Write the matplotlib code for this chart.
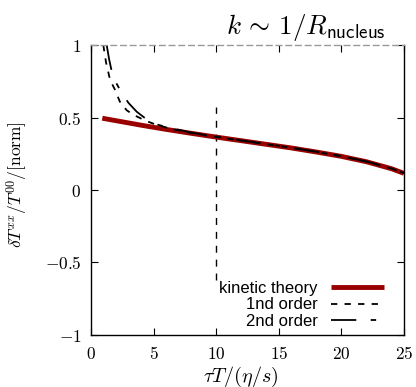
import matplotlib
matplotlib.use("Agg")
import matplotlib.pyplot as plt
import numpy as np

plt.rcParams['mathtext.fontset'] = 'cm'

# data
kin_x = [0.9, 2, 4, 6, 8, 10, 12, 14, 16, 18, 20, 22, 24, 25]
kin_y = [0.495, 0.478, 0.447, 0.418, 0.391, 0.365, 0.340, 0.315, 0.290, 0.262, 0.232, 0.195, 0.147, 0.115]

o1_x = [0.98, 1.2, 1.52, 1.92, 2.3, 2.85, 3.36, 4.3, 5.2, 6.5, 8, 10, 12, 14, 16, 18, 20, 22, 24, 25]
o1_y = [1.0, 0.88, 0.76, 0.69, 0.61, 0.55, 0.52, 0.48, 0.45, 0.42, 0.393, 0.366, 0.341, 0.316, 0.291, 0.263, 0.233, 0.196, 0.148, 0.116]

o2_x = [1.25, 1.45, 1.65, 2.0, 2.45, 3.0, 3.65, 4.4, 5.25, 6.5, 8, 10, 12, 14, 16, 18, 20, 22, 24, 25]
o2_y = [1.0, 0.90, 0.82, 0.74, 0.67, 0.60, 0.54, 0.49, 0.452, 0.425, 0.396, 0.368, 0.342, 0.317, 0.292, 0.264, 0.234, 0.197, 0.149, 0.117]

vline_x = 10
vline_ymin, vline_ymax = -0.62, 0.57

xticks = [0, 5, 10, 15, 20, 25]
yticks = [-1, -0.5, 0, 0.5, 1]
xtick_labels = ['$0$', '$5$', '$10$', '$15$', '$20$', '$25$']
ytick_labels = ['$-1$', '$-0.5$', '$0$', '$0.5$', '$1$']

fig = plt.figure(figsize=(4.16, 3.87), dpi=100)
ax = fig.add_axes([0.2188, 0.1344, 0.7522, 0.7493])

ax.vlines(vline_x, vline_ymin, vline_ymax, colors='black', linewidth=1.0,
          linestyles=(0, (5, 5)))
ax.plot(kin_x, kin_y, color='#990000', linewidth=3.5, label='kinetic theory',
        solid_capstyle='butt')
ax.plot(o1_x, o1_y, color='black', linewidth=1.3, dashes=(3.5, 4),
        label='1nd order')
ax.plot(o2_x, o2_y, color='black', linewidth=1.3, dashes=(14, 8, 3, 8),
        label='2nd order')

ax.set_xlim(0, 25)
ax.set_ylim(-1, 1)
ax.set_xticks(xticks)
ax.set_xticklabels(xtick_labels, fontsize=12.5)
ax.set_yticks(yticks)
ax.set_yticklabels(ytick_labels, fontsize=12.5)
ax.tick_params(direction='in', length=5, width=0.8, top=True, right=True, pad=7)

for s in ['left', 'bottom', 'right']:
    ax.spines[s].set_linewidth(1.0)
ax.spines['top'].set_linewidth(1.0)
ax.spines['top'].set_color('#999999')
ax.spines['top'].set_linestyle((0, (4, 3)))

ax.set_xlabel(r'$\tau T/(\eta/s)$', fontsize=14.5, va='center')
ax.xaxis.set_label_coords(0.479, -0.143)
ax.set_ylabel(r'$\delta T^{xx}/T^{00}/[\mathrm{norm}]$', fontsize=12.5, va='center')
ax.yaxis.set_label_coords(-0.236, 0.517)
fig.text(0.927, 0.928, r'$k\,\sim\,1/R_{\mathsf{nucleus}}$', fontsize=19.5,
         ha='right', va='center')

leg = ax.legend(loc='lower right', bbox_to_anchor=(0.975, -0.02), frameon=False,
                markerfirst=False, handlelength=3.2, handletextpad=0.8,
                labelspacing=0.1, prop={'family': 'Liberation Sans', 'size': 12},
                borderaxespad=0.3)

fig.savefig('out.png', dpi=100)
